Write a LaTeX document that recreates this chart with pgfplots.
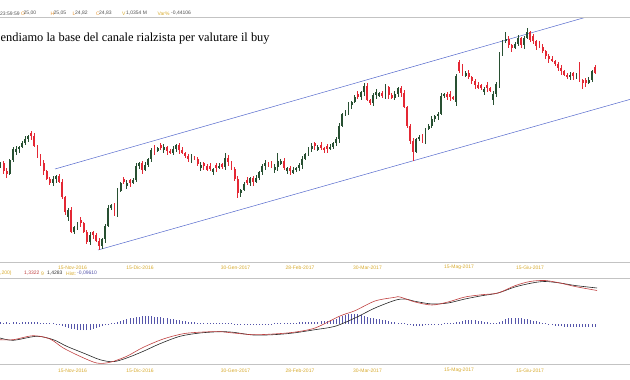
\documentclass[border=0pt]{standalone}
\usepackage{pgfplots}
\pgfplotsset{compat=1.18}
\usepackage{pgfplotstable}
\usepackage{fontspec}
\setmainfont{Liberation Sans}
\newfontfamily\titlefont{Liberation Serif}
\definecolor{cup}{RGB}{40,80,50}
\definecolor{cdn}{RGB}{228,40,52}
\definecolor{chan}{RGB}{85,105,205}
\definecolor{dategold}{RGB}{215,170,45}
\definecolor{sep}{RGB}{195,195,195}
\definecolor{histc}{RGB}{85,85,170}
\definecolor{macdred}{RGB}{192,64,64}
\definecolor{lbl}{RGB}{232,150,50}
\definecolor{num}{RGB}{80,80,80}

\pgfplotstableread{
i o h l c
0 96 100 94 99
1 99 101 88 91
2 91 94 84 88
3 88 103 87 102
4 102 115 100 113
5 110 116 107 113
6 113 116 109 115
7 115 121 114 119
8 119 126 117 123
9 123 127 120 126
10 129 131 122 126
11 126 129 115 116
12 116 117 104 106
13 106 108 96 99
14 99 102 87 91
15 91 92 82 83
16 83 85 77 79
17 79 86 76 83
18 83 87 79 86
19 86 88 79 80
20 80 83 63 65
21 65 66 47 50
22 45 54 41 52
23 52 55 29 30
24 30 36 28 35
25 35 40 32 38
26 42 45 35 39
27 39 40 29 30
28 30 32 18 20
29 20 30 17 27
30 30 31 23 27
31 27 29 20 21
32 21 24 12 16
33 16 24 13 23
34 23 38 19 36
35 36 57 35 54
36 54 58 52 57
37 57 59 46 49
38 49 74 45 71
39 71 80 70 79
40 83 85 78 80
41 76 82 73 79
42 82 83 75 79
43 79 84 78 82
44 82 99 80 96
45 96 100 93 99
46 99 101 88 92
47 92 100 91 97
48 97 104 95 103
49 103 114 100 112
50 114 117 107 111
51 111 115 110 114
52 117 119 112 114
53 112 118 109 115
54 115 116 107 111
55 111 113 108 109
56 109 116 107 113
57 113 118 110 117
58 117 119 108 112
59 112 115 108 109
60 109 110 104 106
61 106 108 100 103
62 103 108 99 105
63 105 106 102 103
64 103 105 96 98
65 94 100 91 97
66 99 100 92 96
67 96 98 91 92
68 96 99 91 93
69 90 94 87 93
70 97 99 90 94
71 94 99 93 96
72 98 99 93 95
73 95 109 92 104
74 104 107 96 100
75 100 101 92 93
76 93 95 81 83
77 83 86 64 69
78 69 73 65 72
79 72 80 71 78
80 82 85 77 79
81 79 85 76 84
82 84 86 76 80
83 80 87 79 84
84 84 91 82 90
85 90 98 87 96
86 96 102 92 99
87 99 100 95 96
88 99 101 94 96
89 92 98 89 95
90 95 109 91 101
91 98 103 97 101
92 101 104 92 94
93 91 95 88 94
94 94 96 87 91
95 89 95 88 92
96 92 95 90 94
97 94 99 91 97
98 97 106 93 103
99 103 109 102 108
100 108 115 106 113
101 113 119 110 116
102 119 120 112 116
103 112 117 111 115
104 117 120 112 114
105 114 115 109 112
106 116 118 109 113
107 113 118 112 115
108 115 120 113 119
109 119 125 116 123
110 123 139 119 136
111 136 149 135 148
112 148 152 146 150
113 150 160 147 157
114 157 161 153 160
115 160 167 159 165
116 168 171 163 165
117 165 171 162 170
118 170 179 166 176
119 176 179 161 162
120 162 163 157 159
121 159 169 156 167
122 167 173 163 170
123 166 170 165 169
124 169 171 164 166
125 166 178 163 175
126 175 176 163 167
127 167 169 163 164
128 164 171 162 168
129 168 175 165 174
130 174 176 165 169
131 169 172 154 155
132 155 156 134 136
133 136 138 118 121
134 121 124 101 110
135 110 124 109 123
136 123 127 121 125
137 125 128 119 122
138 122 134 118 133
139 133 138 132 136
140 136 146 134 143
141 143 147 140 146
142 146 150 142 148
143 148 169 147 166
144 166 169 164 168
145 168 170 162 165
146 168 171 161 165
147 165 166 162 163
148 160 188 156 186
149 200 202 189 191
150 196 198 186 189
151 186 191 185 189
152 189 192 183 185
153 185 186 178 181
154 181 183 173 177
155 177 180 173 174
156 177 178 172 174
157 170 175 167 173
158 177 180 170 174
159 174 175 170 171
160 162 171 157 168
161 168 180 165 178
162 178 210 174 207
163 207 222 206 221
164 221 230 219 223
165 223 226 214 217
166 217 218 210 214
167 214 220 213 218
168 218 227 216 224
169 224 225 214 217
170 217 226 213 224
171 224 234 223 230
172 230 231 220 222
173 226 228 218 221
174 221 222 212 216
175 219 221 214 215
176 215 218 209 211
177 211 212 203 206
178 206 208 199 203
179 203 206 200 201
180 201 202 196 198
181 198 200 191 194
182 194 197 187 191
183 191 192 186 187
184 187 189 183 185
185 185 190 182 187
186 189 190 182 186
187 184 189 183 187
188 190 200 180 182
189 182 183 173 179
190 182 184 175 179
191 179 185 178 182
192 182 192 180 191
193 195 197 188 189
}\candles

\pgfplotstableread{
i v
0 1.5
1 1
2 1.5
3 1
4 1.5
5 1.5
6 1
7 1.5
8 2
9 2
10 1.5
11 1.5
12 1.5
13 1
14 1
15 1
16 0.7
17 0.7
18 -0.5
19 -1
20 -2
21 -3
22 -4
23 -5
24 -5.5
25 -6
26 -6.5
27 -6.5
28 -6.5
29 -6
30 -5.5
31 -4.5
32 -3.5
33 -2.5
34 -1.5
35 -0.7
36 0.5
37 1
38 1.5
39 2.5
40 3.5
41 4.5
42 5.5
43 6
44 6.5
45 7
46 7.5
47 7.5
48 7.5
49 7.5
50 7
51 7
52 6.5
53 6
54 5.5
55 5
56 4.5
57 4
58 3.5
59 3
60 2.5
61 2
62 1.5
63 1.5
64 1
65 1
66 1
67 0.7
68 0.7
69 0.7
70 0.7
71 0.7
72 0.7
73 0.7
74 0.7
75 0.7
76 -0.7
77 -0.7
78 -0.7
79 -0.7
80 -0.7
81 -0.7
82 -0.7
83 -0.7
84 -0.7
85 -0.7
86 -0.7
87 -0.7
88 -0.7
89 0.7
90 0.7
91 0.7
92 0.7
93 1
94 1
95 1
96 1
97 1.2
98 1.5
99 1.5
100 1.5
101 1.5
102 2
103 2
104 2.5
105 2.5
106 3
107 3.5
108 4
109 5
110 6.5
111 8
112 9
113 9.5
114 10
115 10
116 9.5
117 9
118 8
119 7
120 6
121 5.5
122 5
123 4.5
124 4
125 3.5
126 3
127 2
128 1.5
129 1
130 0.5
131 0.5
132 -1
133 -1.5
134 -2
135 -2
136 -2
137 -2
138 -1.5
139 -1.5
140 -1
141 -1
142 -0.7
143 -0.5
144 0.5
145 0.7
146 1
147 1
148 1.5
149 2
150 3
151 3.5
152 4
153 4
154 3.5
155 3
156 2.5
157 2
158 1.5
159 1
160 0.7
161 0.5
162 1.5
163 3
164 4.5
165 5.5
166 6
167 6
168 6
169 5.5
170 5
171 4.5
172 4
173 3
174 2.5
175 2
176 1
177 0.5
178 -1
179 -1.5
180 -2
181 -2.5
182 -2.5
183 -3
184 -3
185 -3
186 -3
187 -3
188 -3
189 -3
190 -3
191 -3
192 -3
193 -3
}\histtab

\pgfplotsset{
  wick/.style={mark=none, draw=none, forget plot,
    error bars/.cd, y dir=plus, y explicit, error mark=none,
    error bar style={draw=#1, line width=0.6pt}},
  body/.style={mark=none, draw=none, forget plot,
    error bars/.cd, y dir=plus, y explicit, error mark=none,
    error bar style={draw=#1, line width=1.9pt}},
}

\newcommand\tinyf{\fontsize{5}{6}\selectfont}

\begin{document}
\begin{tikzpicture}[x=1pt,y=1pt]
\useasboundingbox (0,0) rectangle (630,380);

% one axis in picture units: price panel above y=0, MACD panel below
\begin{axis}[at={(0,362.5)}, anchor=north west, scale only axis,
  width=630pt, height=244.5pt, xmin=0, xmax=630, ymin=0, ymax=244.5,
  clip=false, axis line style={draw=none}, ytick=\empty, major tick length=0pt,
  xtick={72.5,140,235.5,300,367.5,459,530},
  xticklabels={15-Nov-2016,15-Dic-2016,30-Gen-2017,28-Feb-2017,30-Mar-2017,15-Mag-2017,15-Giu-2017},
  xticklabel style={font=\tinyf, text=dategold, anchor=center, yshift=-5.5pt},
  unbounded coords=discard]
  % channel
  \addplot[chan, line width=0.5pt] coordinates {(55,93) (584.9,244.5)};
  \addplot[chan, line width=0.5pt] coordinates {(98,12) (630,162.6)};
  % up candles
  \addplot[wick=cup] table[x expr=\thisrow{i}*3.08+0.5,
     y expr={\thisrow{c}>=\thisrow{o} ? \thisrow{l} : nan},
     y error plus expr={\thisrow{h}-\thisrow{l}}] {\candles};
  \addplot[body=cup] table[x expr=\thisrow{i}*3.08+0.5,
     y expr={\thisrow{c}>=\thisrow{o} ? \thisrow{o} : nan},
     y error plus expr={\thisrow{c}-\thisrow{o}}] {\candles};
  % down candles
  \addplot[wick=cdn] table[x expr=\thisrow{i}*3.08+0.5,
     y expr={\thisrow{c}<\thisrow{o} ? \thisrow{l} : nan},
     y error plus expr={\thisrow{h}-\thisrow{l}}] {\candles};
  \addplot[body=cdn] table[x expr=\thisrow{i}*3.08+0.5,
     y expr={\thisrow{c}<\thisrow{o} ? \thisrow{c} : nan},
     y error plus expr={\thisrow{o}-\thisrow{c}}] {\candles};

  % MACD histogram (baseline at -61.7)
  \addplot[mark=none, draw=none, forget plot,
    error bars/.cd, y dir=plus, y explicit, error mark=none,
    error bar style={draw=histc, line width=0.6pt}]
    table[x expr=\thisrow{i}*3.08+0.5, y expr={-61.7+min(0,\thisrow{v})},
          y error plus expr={abs(\thisrow{v})}] {\histtab};
  % MACD signal (black) and MACD (red)
  \addplot[black!85, line width=0.6pt, smooth, tension=0.5, mark=none] coordinates {
    (0,-76) (13.3,-78.3) (36.7,-74.3) (53.3,-77.7) (66.7,-84.3) (83.3,-91) (100,-97.7)
    (113.3,-99.7) (126.7,-96) (143.3,-89.3) (160,-81.7) (180,-74.3) (200,-71) (220,-69.7)
    (233.3,-70.3) (253.3,-73) (273.3,-72.7) (293.3,-71) (315,-67.7) (335,-64.3) (355,-56)
    (375,-46) (395,-38.3) (405,-37) (415,-39.3) (432,-42) (448,-41) (465,-37)
    (482,-33.7) (498,-31) (515,-25) (532,-21) (545,-19.5) (560,-21) (575,-23.5) (597,-26)};
  \addplot[macdred, line width=0.6pt, smooth, tension=0.5, mark=none] coordinates {
    (0,-77.7) (13.3,-77.7) (33.3,-73.7) (50,-77) (63.3,-86) (80,-94.3) (96.7,-101)
    (110,-100.3) (126.7,-94.3) (143.3,-85.3) (163.3,-77) (183.3,-71.7) (203.3,-70)
    (220,-69.7) (233.3,-71) (253.3,-72.7) (273.3,-72) (293.3,-70.3) (315,-66) (340,-54)
    (355,-48.7) (375,-39) (395,-35.3) (400,-35) (415,-40) (432,-43) (448,-40)
    (465,-35) (482,-32.7) (498,-31) (515,-23.7) (530,-19.5) (545,-18.5) (560,-21) (575,-24.5) (597,-28.5)};

  % MACD panel date labels
  \begin{scope}[every node/.style={font=\tinyf, text=dategold, inner sep=0pt}]
  \node at (axis cs:72.5,-108.5) {15-Nov-2016};
  \node at (axis cs:140,-108.5) {15-Dic-2016};
  \node at (axis cs:235.5,-108.5) {30-Gen-2017};
  \node at (axis cs:300,-108.5) {28-Feb-2017};
  \node at (axis cs:367.5,-108.5) {30-Mar-2017};
  \node at (axis cs:459,-108.5) {15-Mag-2017};
  \node at (axis cs:530,-108.5) {15-Giu-2017};
  \end{scope}
\end{axis}

% separators
\draw[sep, line width=0.6pt] (0,362.5) -- (630,362.5);
\draw[sep, line width=0.6pt] (0,118) -- (630,118);
\draw[sep, line width=0.6pt] (0,101.3) -- (630,101.3);
\draw[sep, line width=0.6pt] (0,16) -- (630,16);

% top info row
\begin{scope}[every node/.style={inner sep=0pt, anchor=west, font=\tinyf}]
\node[text=num] at (0,366.5) {23:59:59};
\node[text=lbl] at (21,366.5) {O};
\node[text=num] at (23.5,366.5) {25,00};
\node[text=lbl] at (50.5,366.5) {H};
\node[text=num] at (53.5,366.5) {25,05};
\node[text=lbl] at (72.5,366.5) {L};
\node[text=num] at (75,366.5) {24,82};
\node[text=lbl] at (96,366.5) {C};
\node[text=num] at (99,366.5) {24,83};
\node[text=dategold] at (122,366.5) {V};
\node[text=num] at (126,366.5) {1,0354 M};
\node[text=dategold] at (157.5,366.5) {Var\%};
\node[text=num] at (171,366.5) {-0,44106};
% macd info row
\node[text=dategold] at (0,106.5) {,200)};
\node[text=macdred] at (24,106.5) {1,3322};
\node[text=dategold] at (41,106.5) {9};
\node[text=black!80] at (47,106.5) {1,4283};
\node[text=dategold] at (66,106.5) {Hist:};
\node[text=histc] at (77,106.5) {-0,09610};
\end{scope}

% annotation
\node[anchor=base west, inner sep=0pt, font=\titlefont\fontsize{12.4}{14}\selectfont] at (0.5,338.5)
  {endiamo la base del canale rialzista per valutare il buy};
\end{tikzpicture}
\end{document}
